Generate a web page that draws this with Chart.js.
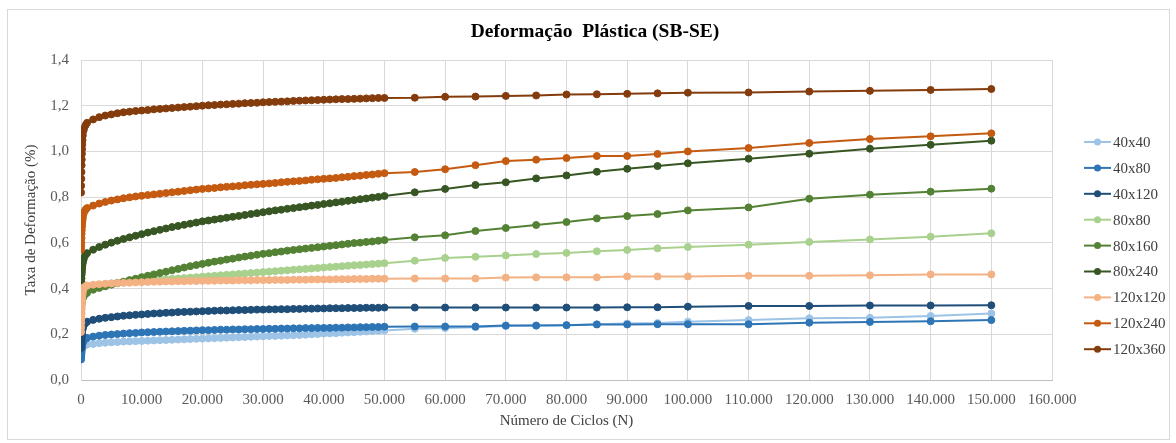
<!DOCTYPE html>
<html>
<head>
<meta charset="utf-8">
<script src="https://cdn.jsdelivr.net/npm/chart.js@4"></script>
<style>
  html, body { margin: 0; padding: 0; background: #fff; }
  canvas { display: block; }
</style>
</head>
<body>
<canvas id="chart" width="1176" height="443"></canvas>
<script>
const TITLE = 'Deformação  Plástica (SB-SE)';
const X_TITLE = 'Número de Ciclos (N)';
const Y_TITLE = 'Taxa de Deformação (%)';

// number of cycles (N)
const cycles = [
  10, 25, 50, 75, 100, 125, 150, 175, 200, 250, 300, 400, 500, 750,
  1000, 2000, 3000, 4000, 5000, 6000, 7000, 8000, 9000, 10000,
  11000, 12000, 13000, 14000, 15000, 16000, 17000, 18000, 19000, 20000,
  21000, 22000, 23000, 24000, 25000, 26000, 27000, 28000, 29000, 30000,
  31000, 32000, 33000, 34000, 35000, 36000, 37000, 38000, 39000, 40000,
  41000, 42000, 43000, 44000, 45000, 46000, 47000, 48000, 49000, 50000,
  55000, 60000, 65000, 70000, 75000, 80000, 85000, 90000, 95000, 100000,
  110000, 120000, 130000, 140000, 150000
];

const s40x40 = [
  0.11, 0.115, 0.12, 0.125, 0.13, 0.133, 0.135, 0.138, 0.14, 0.143, 0.145, 0.148, 0.15, 0.153,
  0.155, 0.158, 0.161, 0.163, 0.165, 0.166, 0.168, 0.169, 0.17, 0.171,
  0.172, 0.173, 0.174, 0.175, 0.176, 0.177, 0.178, 0.179, 0.18, 0.181,
  0.182, 0.183, 0.184, 0.185, 0.186, 0.187, 0.188, 0.189, 0.19, 0.191,
  0.192, 0.193, 0.194, 0.195, 0.196, 0.197, 0.198, 0.2, 0.201, 0.203,
  0.204, 0.205, 0.207, 0.208, 0.209, 0.211, 0.212, 0.214, 0.215, 0.217,
  0.224, 0.227, 0.231, 0.236, 0.238, 0.24, 0.244, 0.247, 0.249, 0.255,
  0.262, 0.27, 0.272, 0.28, 0.291
];
const s40x80 = [
  0.09, 0.1, 0.11, 0.12, 0.13, 0.138, 0.145, 0.15, 0.155, 0.16, 0.165, 0.171, 0.175, 0.18,
  0.184, 0.19, 0.194, 0.197, 0.199, 0.201, 0.203, 0.205, 0.206, 0.208,
  0.209, 0.21, 0.211, 0.212, 0.213, 0.214, 0.215, 0.216, 0.217, 0.218,
  0.218, 0.219, 0.22, 0.22, 0.221, 0.221, 0.222, 0.222, 0.223, 0.223,
  0.224, 0.224, 0.225, 0.225, 0.226, 0.226, 0.227, 0.227, 0.228, 0.228,
  0.228, 0.229, 0.229, 0.23, 0.23, 0.231, 0.231, 0.232, 0.232, 0.233,
  0.234, 0.234, 0.234, 0.238, 0.238, 0.24, 0.243, 0.243, 0.244, 0.244,
  0.244, 0.251, 0.254, 0.257, 0.262
];
const s40x120 = [
  0.14, 0.15, 0.16, 0.17, 0.18, 0.19, 0.2, 0.208, 0.215, 0.222, 0.228, 0.236, 0.242, 0.25,
  0.255, 0.263, 0.268, 0.272, 0.275, 0.278, 0.281, 0.283, 0.285, 0.287,
  0.289, 0.291, 0.292, 0.294, 0.295, 0.297, 0.298, 0.299, 0.3, 0.301,
  0.302, 0.303, 0.304, 0.304, 0.305, 0.306, 0.306, 0.307, 0.308, 0.308,
  0.309, 0.309, 0.31, 0.31, 0.311, 0.311, 0.312, 0.312, 0.313, 0.313,
  0.314, 0.314, 0.314, 0.315, 0.315, 0.315, 0.316, 0.316, 0.316, 0.317,
  0.317, 0.317, 0.317, 0.317, 0.317, 0.317, 0.317, 0.318, 0.318, 0.321,
  0.324, 0.324, 0.326, 0.326, 0.327
];
const s80x80 = [
  0.33, 0.34, 0.35, 0.358, 0.365, 0.37, 0.375, 0.379, 0.382, 0.386, 0.39, 0.395, 0.399, 0.404,
  0.407, 0.413, 0.417, 0.42, 0.423, 0.425, 0.427, 0.429, 0.431, 0.433,
  0.435, 0.437, 0.439, 0.441, 0.443, 0.444, 0.446, 0.448, 0.45, 0.452,
  0.454, 0.456, 0.458, 0.46, 0.462, 0.464, 0.466, 0.468, 0.47, 0.472,
  0.474, 0.476, 0.478, 0.48, 0.482, 0.484, 0.486, 0.488, 0.49, 0.492,
  0.494, 0.496, 0.498, 0.5, 0.502, 0.503, 0.505, 0.507, 0.509, 0.511,
  0.522, 0.534, 0.539, 0.545, 0.551, 0.556, 0.563, 0.569, 0.576, 0.582,
  0.592, 0.604, 0.615, 0.627, 0.642
];
const s80x160 = [
  0.3, 0.31, 0.32, 0.328, 0.335, 0.34, 0.345, 0.349, 0.352, 0.356, 0.36, 0.366, 0.37, 0.377,
  0.382, 0.395, 0.403, 0.41, 0.417, 0.424, 0.43, 0.437, 0.443, 0.45,
  0.456, 0.462, 0.468, 0.474, 0.48, 0.486, 0.492, 0.498, 0.503, 0.508,
  0.513, 0.518, 0.522, 0.527, 0.531, 0.536, 0.54, 0.544, 0.548, 0.552,
  0.555, 0.559, 0.562, 0.566, 0.569, 0.572, 0.575, 0.578, 0.581, 0.584,
  0.587, 0.59, 0.593, 0.596, 0.599, 0.601, 0.604, 0.606, 0.609, 0.612,
  0.624, 0.633, 0.652, 0.665, 0.678, 0.691, 0.707, 0.717, 0.726, 0.742,
  0.755, 0.793, 0.811, 0.824, 0.837
];
const s80x240 = [
  0.4, 0.415, 0.43, 0.445, 0.46, 0.47, 0.48, 0.49, 0.5, 0.508, 0.515, 0.525, 0.535, 0.548,
  0.555, 0.57, 0.582, 0.592, 0.601, 0.609, 0.617, 0.624, 0.631, 0.638,
  0.645, 0.651, 0.657, 0.663, 0.669, 0.674, 0.679, 0.684, 0.689, 0.694,
  0.698, 0.702, 0.706, 0.71, 0.714, 0.718, 0.722, 0.726, 0.73, 0.734,
  0.738, 0.742, 0.745, 0.749, 0.752, 0.756, 0.759, 0.763, 0.766, 0.77,
  0.773, 0.777, 0.78, 0.784, 0.787, 0.791, 0.794, 0.798, 0.801, 0.805,
  0.821, 0.836, 0.853, 0.865, 0.882, 0.895, 0.911, 0.924, 0.936, 0.948,
  0.968, 0.99, 1.012, 1.029, 1.047
];
const s120x120 = [
  0.21, 0.23, 0.25, 0.27, 0.29, 0.31, 0.33, 0.345, 0.36, 0.373, 0.385, 0.4, 0.405, 0.41,
  0.413, 0.417, 0.419, 0.421, 0.422, 0.424, 0.425, 0.426, 0.427, 0.428,
  0.429, 0.43, 0.43, 0.431, 0.431, 0.432, 0.432, 0.433, 0.433, 0.434,
  0.434, 0.434, 0.435, 0.435, 0.435, 0.436, 0.436, 0.436, 0.437, 0.437,
  0.437, 0.438, 0.438, 0.438, 0.439, 0.439, 0.439, 0.44, 0.44, 0.44,
  0.44, 0.441, 0.441, 0.441, 0.442, 0.442, 0.442, 0.443, 0.443, 0.443,
  0.444, 0.444, 0.444, 0.448, 0.449, 0.449, 0.449, 0.453, 0.453, 0.453,
  0.456, 0.456, 0.458, 0.462, 0.462
];
const s120x240 = [
  0.57, 0.585, 0.6, 0.62, 0.64, 0.655, 0.67, 0.68, 0.69, 0.7, 0.71, 0.725, 0.735, 0.745,
  0.752, 0.763, 0.772, 0.779, 0.785, 0.79, 0.795, 0.799, 0.803, 0.806,
  0.809, 0.812, 0.815, 0.818, 0.821, 0.824, 0.827, 0.83, 0.833, 0.836,
  0.838, 0.84, 0.843, 0.845, 0.847, 0.849, 0.852, 0.854, 0.856, 0.858,
  0.86, 0.862, 0.865, 0.867, 0.869, 0.871, 0.873, 0.876, 0.878, 0.88,
  0.882, 0.884, 0.887, 0.889, 0.892, 0.894, 0.897, 0.899, 0.902, 0.905,
  0.91, 0.922, 0.94, 0.958, 0.964, 0.971, 0.98, 0.98, 0.989, 1.0,
  1.015, 1.037, 1.054, 1.066, 1.079
];
const s120x360 = [
  0.82, 0.85, 0.88, 0.91, 0.94, 0.965, 0.99, 1.01, 1.03, 1.05, 1.07, 1.09, 1.1, 1.115,
  1.125, 1.14, 1.15, 1.157, 1.162, 1.167, 1.171, 1.174, 1.177, 1.179,
  1.181, 1.184, 1.186, 1.188, 1.19, 1.192, 1.194, 1.196, 1.198, 1.2,
  1.202, 1.203, 1.205, 1.206, 1.208, 1.209, 1.211, 1.212, 1.213, 1.215,
  1.216, 1.217, 1.218, 1.219, 1.221, 1.222, 1.223, 1.224, 1.225, 1.226,
  1.227, 1.228, 1.229, 1.229, 1.23, 1.231, 1.232, 1.233, 1.234, 1.234,
  1.235, 1.239, 1.24, 1.243, 1.245, 1.249, 1.25, 1.252, 1.254, 1.257,
  1.258, 1.262, 1.265, 1.269, 1.273
];

const seriesNames = ['40x40', '40x80', '40x120', '80x80', '80x160', '80x240', '120x120', '120x240', '120x360'];
const seriesValues = [s40x40, s40x80, s40x120, s80x80, s80x160, s80x240, s120x120, s120x240, s120x360];
const seriesColors = ['#9DC3E6', '#2E75B6', '#1F4E79', '#A9D18E', '#548235', '#375623', '#F4B183', '#C55A11', '#843C0C'];

const FONT = '"Liberation Serif", "Times New Roman", serif';

const datasets = seriesNames.map((name, i) => ({
    label: name,
    data: cycles.map((c, j) => ({ x: c, y: seriesValues[i][j] })),
    borderColor: seriesColors[i],
    backgroundColor: seriesColors[i],
    pointBackgroundColor: seriesColors[i],
    pointBorderColor: seriesColors[i],
    borderWidth: 2,
    pointRadius: 3.5,
    pointBorderWidth: 1,
    tension: 0,
    order: seriesNames.length - i   // later series drawn on top, like Excel
}));

const fmtThousands = v => String(v).replace(/\B(?=(\d{3})+(?!\d))/g, '.');

// page frame, title and legend
const decorations = {
    id: 'decorations',
    beforeDraw(chart) {
        const ctx = chart.ctx;
        ctx.save();
        ctx.fillStyle = '#fff';
        ctx.fillRect(0, 0, chart.width, chart.height);
        ctx.strokeStyle = '#d9d9d9';
        ctx.lineWidth = 1;
        ctx.strokeRect(7.5, 9.5, 1162, 430);
        ctx.restore();
    },
    afterDraw(chart) {
        const ctx = chart.ctx;
        ctx.save();
        ctx.fillStyle = '#000';
        ctx.font = 'bold 19.5px ' + FONT;
        ctx.textAlign = 'center';
        ctx.textBaseline = 'middle';
        ctx.fillText(TITLE, 595, 32);

        ctx.font = '15px ' + FONT;
        ctx.textAlign = 'left';
        chart.data.datasets.forEach((ds, i) => {
            const y = 142 + i * 25.9;
            ctx.strokeStyle = ds.borderColor;
            ctx.lineWidth = 2;
            ctx.beginPath();
            ctx.moveTo(1084, y);
            ctx.lineTo(1111, y);
            ctx.stroke();
            ctx.fillStyle = ds.borderColor;
            ctx.beginPath();
            ctx.arc(1097.5, y, 3.5, 0, Math.PI * 2);
            ctx.fill();
            ctx.fillStyle = '#404040';
            ctx.fillText(ds.label, 1113, y + 1);
        });
        ctx.restore();
    }
};

const ctx = document.getElementById('chart').getContext('2d');
const chart = new Chart(ctx, {
    type: 'line',
    data: { datasets: datasets },
    options: {
        responsive: false,
        animation: false,
        layout: { padding: { left: 8, top: 60, right: 124, bottom: 0 } },
        plugins: {
            legend: { display: false },
            title: { display: false },
            tooltip: { enabled: false }
        },
        scales: {
            x: {
                type: 'linear',
                min: 0,
                max: 160000,
                afterFit: s => { s.height = 63; },
                ticks: {
                    stepSize: 10000,
                    padding: 11,
                    color: '#595959',
                    font: { family: FONT, size: 15 },
                    callback: v => fmtThousands(v),
                    maxRotation: 0,
                    autoSkip: false
                },
                grid: { color: '#d9d9d9', drawTicks: false },
                border: { color: '#bfbfbf' },
                title: {
                    display: true,
                    text: X_TITLE,
                    color: '#404040',
                    font: { family: FONT, size: 15 },
                    padding: { top: 0, bottom: 13 }
                }
            },
            y: {
                min: 0,
                max: 1.4,
                afterFit: s => { s.width = 73; },
                ticks: {
                    stepSize: 0.2,
                    padding: 12,
                    color: '#595959',
                    font: { family: FONT, size: 15 },
                    callback: v => v.toFixed(1).replace('.', ',')
                },
                grid: { color: '#d9d9d9', drawTicks: false },
                border: { color: '#d9d9d9' },
                title: {
                    display: true,
                    text: Y_TITLE,
                    color: '#404040',
                    font: { family: FONT, size: 15 },
                    padding: { top: 14, bottom: 0 }
                }
            }
        }
    },
    plugins: [decorations]
});
</script>
</body>
</html>
